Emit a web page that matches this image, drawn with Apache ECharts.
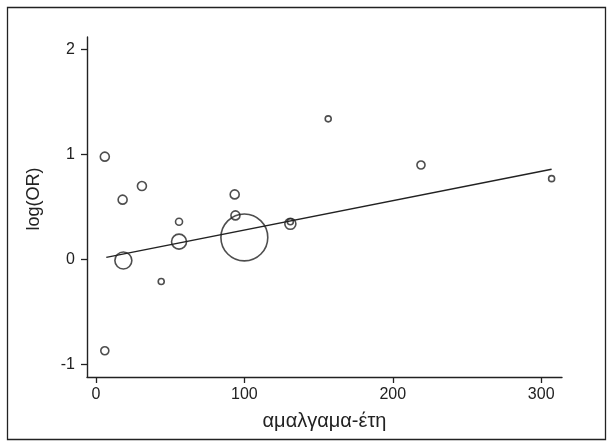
<!DOCTYPE html>
<html>
<head>
<meta charset="utf-8">
<script src="https://cdn.jsdelivr.net/npm/echarts@6/dist/echarts.min.js"></script>
<style>
html,body{margin:0;padding:0;background:#fff;}
#chart{width:614px;height:447px;}
</style>
</head>
<body>
<div id="chart"></div>
<script>
// Study-level data: amalgam-years (x), log(OR) (y), study weight (bubble area)
const amalgamYears = [6, 18, 31, 18.5, 44, 56, 56, 93.5, 94, 100, 131, 131, 156.5, 219, 307, 6];
const logOR        = [0.98, 0.57, 0.70, -0.01, -0.21, 0.36, 0.17, 0.62, 0.42, 0.21, 0.34, 0.36, 1.34, 0.90, 0.77, -0.87];
const weights      = [2.25, 2.25, 2.25, 8.0, 1.0, 1.36, 6.25, 2.25, 2.25, 61.0, 3.4, 1.0, 1.0, 1.8, 1.0, 1.8];
// Fitted meta-regression line (endpoints)
const fitX = [7, 307];
const fitY = [0.02, 0.86];
// Axis ticks
const xTicks = [0, 100, 200, 300];
const yTicks = [-1, 0, 1, 2];

const points = amalgamYears.map((x, i) => [x, logOR[i], weights[i]]);
const fitLine = fitX.map((x, i) => [x, fitY[i]]);

const chart = echarts.init(document.getElementById('chart'), null, {renderer: 'canvas'});
const axisColor = '#222';
const font = 'Liberation Sans, Arial, sans-serif';
chart.setOption({
  animation: false,
  backgroundColor: '#fff',
  grid: {left: 87, top: 37, right: 52, bottom: 70, containLabel: false},
  xAxis: {
    type: 'value', min: -6, max: 314,
    axisLine: {show: true, onZero: false, lineStyle: {color: axisColor, width: 1.4}},
    axisTick: {show: true, customValues: xTicks, length: 6, lineStyle: {color: axisColor, width: 1.3}},
    axisLabel: {customValues: xTicks, color: '#222', fontSize: 16, fontFamily: font, margin: 10},
    splitLine: {show: false},
    name: 'αμαλγαμα-έτη', nameLocation: 'middle', nameGap: 34,
    nameTextStyle: {color: '#222', fontSize: 20, fontFamily: font}
  },
  yAxis: {
    type: 'value', min: -1.12, max: 2.12,
    axisLine: {show: true, onZero: false, lineStyle: {color: axisColor, width: 1.4}},
    axisTick: {show: true, customValues: yTicks, length: 6, lineStyle: {color: axisColor, width: 1.3}},
    axisLabel: {customValues: yTicks, color: '#222', fontSize: 16, fontFamily: font, margin: 12},
    splitLine: {show: false},
    name: 'log(OR)', nameLocation: 'middle', nameGap: 44, nameRotate: 90,
    nameTextStyle: {color: '#222', fontSize: 18, fontFamily: font, padding: [0, 0, 0, 16]}
  },
  series: [
    {
      type: 'line', data: fitLine, symbol: 'none', silent: true,
      lineStyle: {color: '#222', width: 1.5}, z: 3
    },
    {
      type: 'scatter', data: points,
      symbol: 'circle',
      symbolSize: d => 6 * Math.sqrt(d[2]),
      itemStyle: {color: 'rgba(0,0,0,0)', borderColor: '#222', borderWidth: 1.6},
      z: 4
    }
  ],
  graphic: [{
    type: 'rect', shape: {x: 7.5, y: 7.5, width: 598, height: 432},
    style: {fill: null, stroke: '#222', lineWidth: 1.3}, silent: true, z: 10
  }]
});
</script>
</body>
</html>
